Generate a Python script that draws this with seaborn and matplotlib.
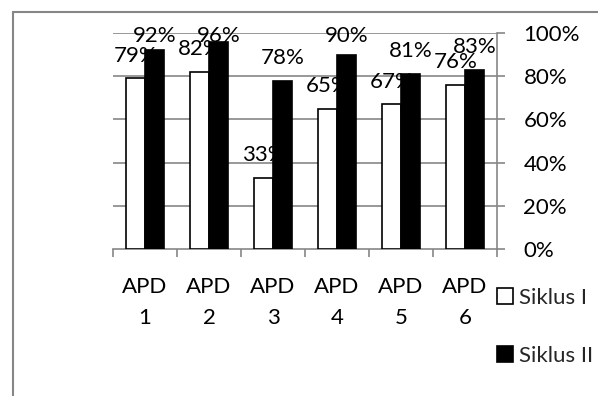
import matplotlib
matplotlib.use("Agg")
import matplotlib.pyplot as plt
from matplotlib.lines import Line2D
from matplotlib.ticker import FixedLocator, PercentFormatter
import seaborn as sns
import pandas as pd

# Activity scores per APD for the two cycles (percent)
categories = ["APD\n1", "APD\n2", "APD\n3", "APD\n4", "APD\n5", "APD\n6"]
siklus_1 = [79, 82, 33, 65, 67, 76]
siklus_2 = [92, 96, 78, 90, 81, 83]
series_names = ["Siklus I", "Siklus II"]
y_ticks = [0, 20, 40, 60, 80, 100]

df = pd.DataFrame({
    "apd": categories * 2,
    "nilai": siklus_1 + siklus_2,
    "siklus": [series_names[0]] * len(categories) + [series_names[1]] * len(categories),
})

sns.set_theme(style="white")
plt.rcParams["font.family"] = ["Lato", "DejaVu Sans"]
GRAY = "#868686"
FS = 16

fig = plt.figure(figsize=(5.98, 3.96), dpi=100)
ax = fig.add_axes([113 / 598, 147 / 396, 384 / 598, 216 / 396])

sns.barplot(data=df, x="apd", y="nilai", hue="siklus", order=categories,
            hue_order=series_names, palette=["white", "black"],
            edgecolor="black", linewidth=1.2, width=0.58, gap=0,
            saturation=1, ax=ax, zorder=3)

ax.set_ylim(0, 100)
ax.set_xlim(-0.5, len(categories) - 0.5)
ax.set_xlabel("")
ax.set_ylabel("")

# horizontal gridlines
for t in y_ticks[1:]:
    ax.axhline(t, color=GRAY, lw=1.2, zorder=1)

# spines: right and bottom only
for side in ["top", "left"]:
    ax.spines[side].set_visible(False)
for side in ["right", "bottom"]:
    ax.spines[side].set_visible(True)
    ax.spines[side].set_color(GRAY)
    ax.spines[side].set_linewidth(1.2)

ax.yaxis.tick_right()
ax.yaxis.set_major_locator(FixedLocator(y_ticks))
ax.yaxis.set_major_formatter(PercentFormatter(decimals=0))
ax.tick_params(axis="y", which="major", right=True, left=False, length=6,
               width=1.2, color=GRAY, pad=13, labelsize=FS, labelcolor="black")
for lbl in ax.get_yticklabels():
    lbl.set_horizontalalignment("left")

ax.set_xticks(range(len(categories)))
ax.set_xticklabels(categories, linespacing=1.7)
ax.tick_params(axis="x", which="major", bottom=False, length=0, pad=20,
               labelsize=FS, labelcolor="black")
ax.set_xticks([i - 0.5 for i in range(len(categories) + 1)], minor=True)
ax.tick_params(axis="x", which="minor", bottom=True, length=6, width=1.2,
               color=GRAY)

# value labels above bars, kept within the plot top
for j, vals in enumerate([siklus_1, siklus_2]):
    container = ax.containers[j]
    for bar, v in zip(container, vals):
        xc = bar.get_x() + bar.get_width() / 2
        yc = min(v + 10.5, 98.5)
        ax.text(xc, yc, f"{v}%", ha="center", va="center", fontsize=FS,
                color="black", zorder=2 + j * 2)

# legend
sns.move_legend(ax, loc="upper left", bbox_to_anchor=(497 / 598, 1 - 288 / 396),
                bbox_transform=fig.transFigure, frameon=False, title=None,
                fontsize=FS, handlelength=0.7, handleheight=0.7,
                handletextpad=0.3, labelspacing=1.7, borderpad=0,
                borderaxespad=0)

# chart border (top and left edges)
fig.add_artist(Line2D([13 / 598, 13 / 598], [0, 1 - 12 / 396],
                      transform=fig.transFigure, color=GRAY, lw=1.5))
fig.add_artist(Line2D([13 / 598, 1], [1 - 12 / 396, 1 - 12 / 396],
                      transform=fig.transFigure, color=GRAY, lw=1.5))

fig.savefig("out.png", dpi=100)
